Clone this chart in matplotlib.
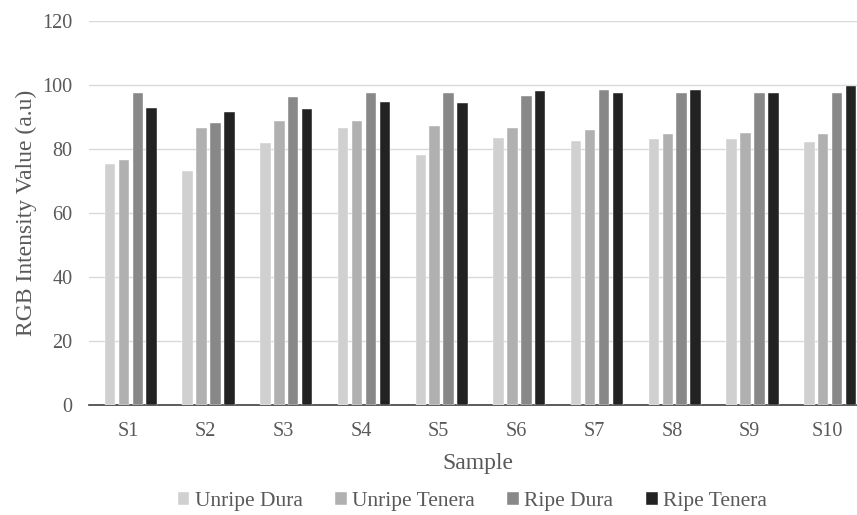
import matplotlib.pyplot as plt
import numpy as np

samples = ["S1", "S2", "S3", "S4", "S5", "S6", "S7", "S8", "S9", "S10"]
unripe_dura = [75.2, 73.1, 81.9, 86.7, 78.1, 83.3, 82.4, 83.1, 83.2, 82.3]
unripe_tenera = [76.5, 86.5, 88.9, 88.8, 87.3, 86.5, 85.8, 84.8, 85.1, 84.8]
ripe_dura = [97.5, 88.2, 96.1, 97.4, 97.5, 96.7, 98.4, 97.6, 97.5, 97.5]
ripe_tenera = [92.7, 91.7, 92.4, 94.6, 94.3, 98.2, 97.5, 98.5, 97.5, 99.8]

series = [
    ("Unripe Dura", unripe_dura, "#d0d0d0"),
    ("Unripe Tenera", unripe_tenera, "#b0b0b0"),
    ("Ripe Dura", ripe_dura, "#888888"),
    ("Ripe Tenera", ripe_tenera, "#222222"),
]

plt.rcParams["font.family"] = ["Liberation Serif", "DejaVu Serif"]
txt = "#595959"

fig = plt.figure(figsize=(8.57, 5.15), dpi=100)
# plot area runs slightly past the right edge, as in the reference
ax = fig.add_axes([0.1039, 0.2136, 0.9067, 0.7456])

x = np.arange(len(samples))
step, width = 0.179, 0.135
for i, (name, vals, col) in enumerate(series):
    ax.bar(x + (i - 1.5) * step + 0.038, vals, width, color=col, label=name,
           edgecolor="#ffffff", linewidth=0.3, zorder=3)

ax.set_xlim(-0.5, len(samples) - 0.5)
ax.set_ylim(0, 120)
ax.set_yticks(range(0, 121, 20))
ax.set_xticks(x)
ax.set_xticklabels(samples)
ax.yaxis.grid(True, color="#d9d9d9", linewidth=1.0, zorder=0)
ax.tick_params(axis="both", length=0, colors=txt, labelsize=14.5)
ax.tick_params(axis="x", pad=12)
ax.tick_params(axis="y", pad=12)
for s in ["top", "right", "left"]:
    ax.spines[s].set_visible(False)
ax.spines["bottom"].set_color("#404040")
ax.spines["bottom"].set_linewidth(1.2)

ax.set_xlabel("Sample", fontsize=17, color=txt, labelpad=9)
ax.set_ylabel("RGB Intensity Value (a.u)", fontsize=17, color=txt, labelpad=4)

leg = fig.legend(loc="center", bbox_to_anchor=(0.551, 0.026), ncol=4,
                 frameon=False, fontsize=15.5, handlelength=0.55, handleheight=0.55,
                 handletextpad=0.25, columnspacing=1.5, borderpad=0)
for t in leg.get_texts():
    t.set_color(txt)

fig.savefig("out.png", dpi=100)
